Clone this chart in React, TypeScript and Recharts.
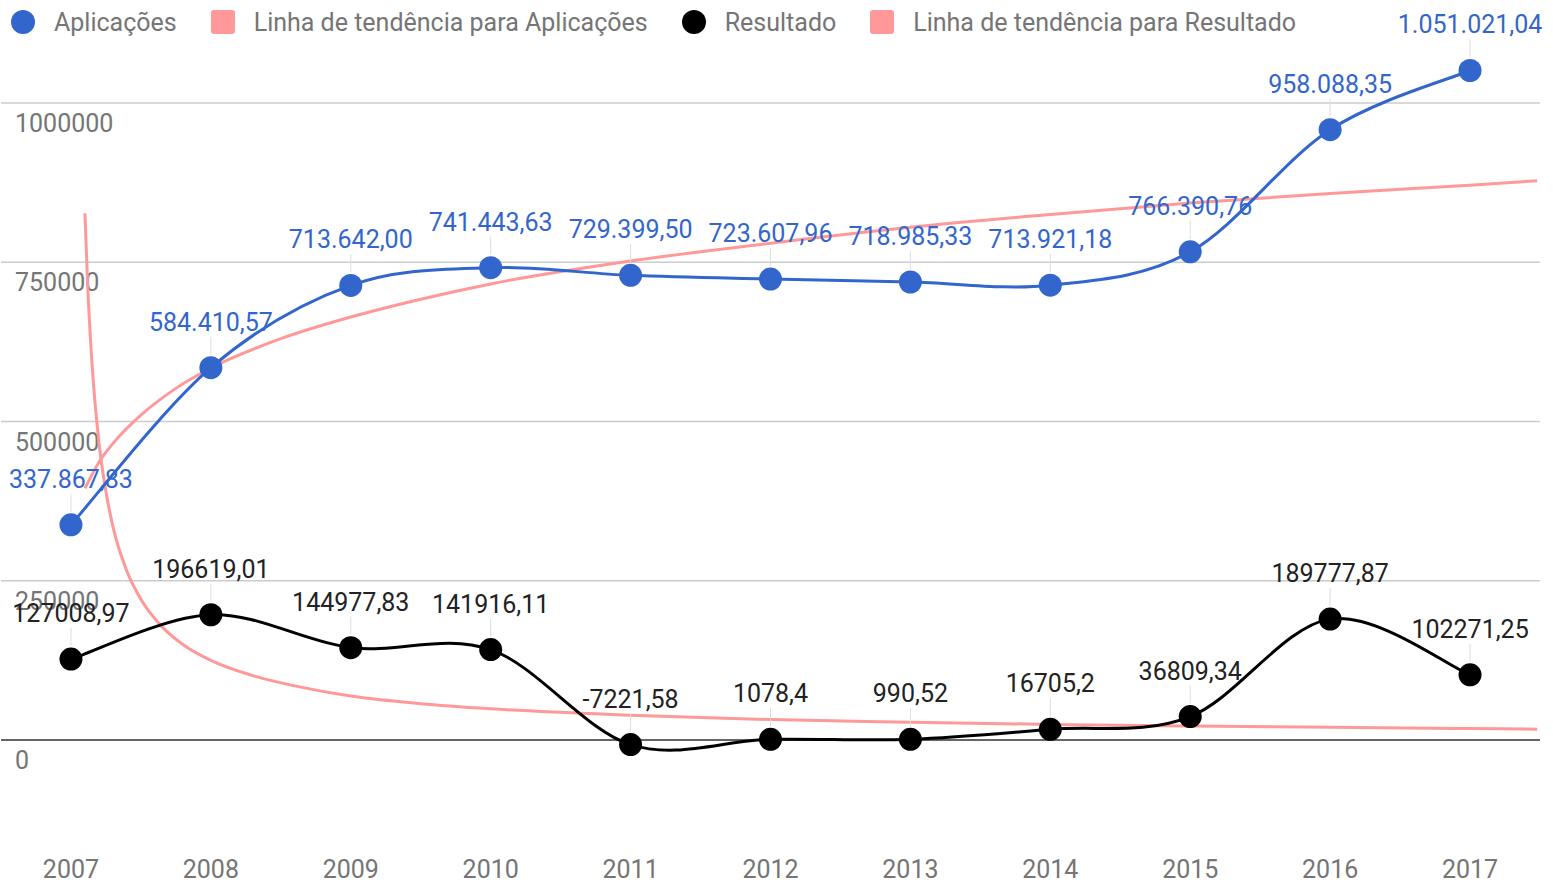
import React from 'react';
import { LineChart, Line, XAxis, YAxis, ReferenceLine, LabelList } from 'recharts';

const years = [2007, 2008, 2009, 2010, 2011, 2012, 2013, 2014, 2015, 2016, 2017];
const aplicacoes = [337867.83, 584410.57, 713642.0, 741443.63, 729399.5, 723607.96, 718985.33, 713921.18, 766390.76, 958088.35, 1051021.04];
const resultado = [127008.97, 196619.01, 144977.83, 141916.11, -7221.58, 1078.4, 990.52, 16705.2, 36809.34, 189777.87, 102271.25];

// trend lines, values
const trendAplicX = [2007.1, 2007.2, 2007.35, 2007.5, 2007.75, 2008, 2008.5, 2009, 2009.5, 2010, 2011, 2012, 2013, 2014, 2015, 2016, 2017, 2017.48];
const trendAplicY = [395000, 436000, 478000, 510000, 552000, 584000, 630000, 664000, 692000, 716000, 752000, 780000, 805000, 825000, 843000, 858000, 871000, 878000];
const trendResX = [2007.1, 2007.12, 2007.15, 2007.2, 2007.25, 2007.3, 2007.4, 2007.5, 2007.65, 2007.8, 2008, 2008.3, 2008.6, 2009, 2009.5, 2010, 2011, 2012, 2013, 2014, 2015, 2016, 2017, 2017.48];
const trendResY = [827000, 711000, 593000, 467000, 390000, 335000, 265000, 221000, 178000, 150000, 125000, 101000, 85000, 69000, 57000, 49000, 39000, 32000, 28000, 24500, 22000, 20000, 18000, 17000];

const yTicks = [0, 250000, 500000, 750000, 1000000];

const BLUE = '#3366cc';
const PINK = '#ff9999';
const GRAY = '#757575';
const FONT = 'Roboto, Arial, sans-serif';
const FS = 25;

const aplicData = years.map((x, i) => ({ x, v: aplicacoes[i] }));
const resData = years.map((x, i) => ({ x, v: resultado[i] }));
const trendAplicData = trendAplicX.map((x, i) => ({ x, v: trendAplicY[i] }));
const trendResData = trendResX.map((x, i) => ({ x, v: trendResY[i] }));

const fmtAplic = (v: number) => {
  const [int, dec] = v.toFixed(2).split('.');
  return int.replace(/\B(?=(\d{3})+(?!\d))/g, '.') + ',' + dec;
};
const fmtRes = (v: number) => String(v).replace('.', ',');

// catmull-rom style smoothing, close to google's "function" curve
const smooth = (ctx: any) => {
  let pts: number[][] = [];
  return {
    areaStart() {},
    areaEnd() {},
    lineStart() { pts = []; },
    point(x: number, y: number) { pts.push([x, y]); },
    lineEnd() {
      if (!pts.length) return;
      ctx.moveTo(pts[0][0], pts[0][1]);
      for (let i = 0; i < pts.length - 1; i++) {
        const p0 = pts[i - 1] || pts[i];
        const p1 = pts[i];
        const p2 = pts[i + 1];
        const p3 = pts[i + 2] || p2;
        ctx.bezierCurveTo(
          p1[0] + (p2[0] - p0[0]) / 6, p1[1] + (p2[1] - p0[1]) / 6,
          p2[0] - (p3[0] - p1[0]) / 6, p2[1] - (p3[1] - p1[1]) / 6,
          p2[0], p2[1]
        );
      }
    },
  };
};

const makeLabel = (color: string, fmt: (v: number) => string) => (props: any) => {
  const x = props.x ?? props.viewBox?.x;
  const y = props.y ?? props.viewBox?.y;
  return (
    <g>
      <line x1={x} x2={x} y1={y - 13} y2={y - 31} stroke="#dddddd" strokeWidth={1} />
      <text x={x} y={y - 37} textAnchor="middle" fill={color} fontSize={FS} fontFamily={FONT}>
        {fmt(Number(props.value))}
      </text>
    </g>
  );
};

// y tick labels sit inside the plot, just under their gridline
const GridLabel = (props: any) => {
  const vb = props.viewBox || {};
  return (
    <text x={vb.x + 14} y={vb.y + 29} fill={GRAY} fontSize={FS} fontFamily={FONT}>
      {props.text}
    </text>
  );
};

const XTick = (props: any) => (
  <text x={props.x} y={props.y + 34} textAnchor="middle" fill={GRAY} fontSize={FS} fontFamily={FONT}>
    {props.payload.value}
  </text>
);

const legendItems = [
  { label: 'Aplicações', color: BLUE, round: true },
  { label: 'Linha de tendência para Aplicações', color: PINK, round: false },
  { label: 'Resultado', color: '#000000', round: true },
  { label: 'Linha de tendência para Resultado', color: PINK, round: false },
];

export default function App() {
  return (
    <div style={{ position: 'absolute', left: 0, top: 0, width: 1553, height: 883, background: '#fff' }}>
      <LineChart width={1553} height={883} margin={{ top: 39.3, right: 13, bottom: 0, left: 1 }}>
        <XAxis
          type="number"
          dataKey="x"
          domain={[2006.5, 2017.5]}
          ticks={years}
          allowDataOverflow
          axisLine={false}
          tickLine={false}
          height={47.45}
          tick={<XTick />}
        />
        <YAxis type="number" domain={[-150000, 1100000]} ticks={yTicks} allowDataOverflow hide />
        {yTicks.map((t) => (
          <ReferenceLine
            key={t}
            y={t}
            stroke={t === 0 ? '#333333' : '#cccccc'}
            strokeWidth={1.5}
            label={<GridLabel text={String(t)} />}
          />
        ))}
        <Line data={trendResData} dataKey="v" type="monotone" stroke={PINK} strokeWidth={3} dot={false} isAnimationActive={false} />
        <Line data={trendAplicData} dataKey="v" type="monotone" stroke={PINK} strokeWidth={3} dot={false} isAnimationActive={false} />
        <Line
          data={resData}
          dataKey="v"
          type={smooth as any}
          stroke="#000000"
          strokeWidth={3}
          dot={{ r: 11.5, fill: '#000000', stroke: '#000000', strokeWidth: 0 }}
          isAnimationActive={false}
        >
          <LabelList dataKey="v" content={makeLabel('#222222', fmtRes)} />
        </Line>
        <Line
          data={aplicData}
          dataKey="v"
          type={smooth as any}
          stroke={BLUE}
          strokeWidth={3}
          dot={{ r: 11.5, fill: BLUE, stroke: BLUE, strokeWidth: 0 }}
          isAnimationActive={false}
        >
          <LabelList dataKey="v" content={makeLabel(BLUE, fmtAplic)} />
        </Line>
      </LineChart>
      <div
        style={{
          position: 'absolute', left: 11, top: 10, height: 24, display: 'flex', alignItems: 'center',
          fontFamily: FONT, fontSize: FS, color: GRAY, whiteSpace: 'nowrap',
        }}
      >
        {legendItems.map((it) => (
          <div key={it.label} style={{ display: 'flex', alignItems: 'center', marginRight: 34 }}>
            <span
              style={{
                display: 'inline-block', width: 24, height: 24, marginRight: 19,
                background: it.color, borderRadius: it.round ? 12 : 3,
              }}
            />
            <span>{it.label}</span>
          </div>
        ))}
      </div>
    </div>
  );
}
